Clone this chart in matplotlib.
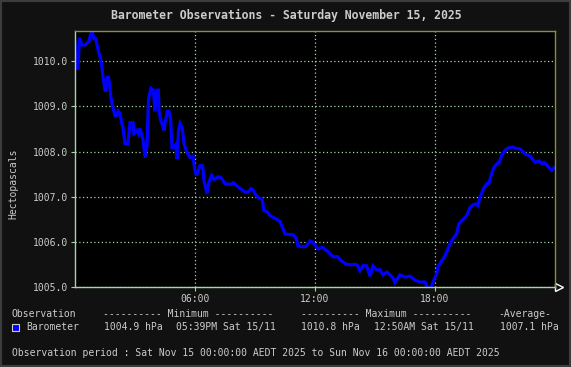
import matplotlib
matplotlib.use("Agg")
import matplotlib.pyplot as plt
from matplotlib.patches import Rectangle

# barometer readings, hours since midnight -> hPa
hours = [0.00, 0.05, 0.15, 0.22, 0.35, 0.50, 0.60, 0.70, 0.75, 0.85, 0.95, 1.05,
         1.10, 1.20, 1.28, 1.35, 1.40, 1.50, 1.55, 1.62, 1.68, 1.75, 1.80, 1.88,
         2.00, 2.10, 2.15, 2.25, 2.33, 2.40, 2.50, 2.65, 2.75, 2.90, 2.95, 3.10,
         3.17, 3.25, 3.40, 3.50, 3.60, 3.68, 3.80, 3.92, 4.00, 4.10, 4.17, 4.20,
         4.28, 4.38, 4.45, 4.50, 4.62, 4.70, 4.78, 4.85, 4.92, 5.05, 5.10, 5.18,
         5.25, 5.37, 5.45, 5.58, 5.75, 5.90, 5.98, 6.08, 6.25, 6.38, 6.45, 6.60,
         6.70, 6.83, 6.95, 7.15, 7.30, 7.50, 7.75, 7.92, 8.15, 8.50, 8.65, 8.80,
         8.90, 9.00, 9.20, 9.35, 9.45, 9.60, 9.75, 10.05, 10.25, 10.50, 10.70, 10.90,
         11.05, 11.15, 11.40, 11.55, 11.75, 11.85, 12.00, 12.15, 12.38, 12.60, 12.90, 13.15,
         13.25, 13.55, 13.75, 14.00, 14.10, 14.25, 14.40, 14.58, 14.75, 14.90, 15.08, 15.25,
         15.40, 15.60, 15.75, 15.90, 16.00, 16.15, 16.25, 16.50, 16.75, 17.00, 17.25, 17.50,
         17.65, 17.83, 17.90, 18.08, 18.15, 18.28, 18.50, 18.75, 18.90, 19.08, 19.20, 19.35,
         19.58, 19.75, 19.90, 20.05, 20.15, 20.25, 20.45, 20.60, 20.70, 20.83, 20.95, 21.10,
         21.20, 21.33, 21.45, 21.58, 21.75, 21.90, 22.05, 22.25, 22.40, 22.50, 22.75, 22.90,
         23.00, 23.20, 23.35, 23.45, 23.60, 23.83, 23.95]
pressure = [1010.42, 1009.84, 1009.84, 1010.52, 1010.36, 1010.36, 1010.40, 1010.44, 1010.55, 1010.67, 1010.50, 1010.50,
            1010.36, 1010.18, 1010.07, 1009.87, 1009.64, 1009.36, 1009.36, 1009.64, 1009.64, 1009.40, 1009.18, 1009.00,
            1008.80, 1008.80, 1008.89, 1008.85, 1008.64, 1008.53, 1008.18, 1008.18, 1008.64, 1008.64, 1008.40, 1008.47,
            1008.40, 1008.51, 1008.26, 1007.87, 1008.13, 1009.18, 1009.40, 1009.36, 1008.89, 1009.36, 1009.36, 1008.89,
            1008.70, 1008.58, 1008.47, 1008.64, 1008.89, 1008.89, 1008.73, 1008.09, 1008.09, 1008.16, 1007.84, 1008.47,
            1008.62, 1008.51, 1008.18, 1008.00, 1007.87, 1007.90, 1007.62, 1007.47, 1007.69, 1007.69, 1007.36, 1007.07,
            1007.33, 1007.47, 1007.38, 1007.44, 1007.42, 1007.29, 1007.27, 1007.31, 1007.22, 1007.10, 1007.10, 1007.18,
            1007.15, 1007.07, 1006.96, 1006.96, 1006.69, 1006.67, 1006.58, 1006.51, 1006.45, 1006.18, 1006.16, 1006.16,
            1006.09, 1005.91, 1005.89, 1005.90, 1006.02, 1006.00, 1005.93, 1005.84, 1005.88, 1005.80, 1005.67, 1005.67,
            1005.60, 1005.51, 1005.49, 1005.50, 1005.49, 1005.36, 1005.47, 1005.47, 1005.24, 1005.47, 1005.38, 1005.38,
            1005.27, 1005.33, 1005.27, 1005.20, 1005.10, 1005.20, 1005.27, 1005.22, 1005.24, 1005.15, 1005.11, 1005.11,
            1004.95, 1005.02, 1005.11, 1005.29, 1005.45, 1005.54, 1005.69, 1005.96, 1006.07, 1006.18, 1006.40, 1006.47,
            1006.58, 1006.76, 1006.82, 1006.84, 1006.80, 1006.99, 1007.20, 1007.29, 1007.30, 1007.51, 1007.65, 1007.73,
            1007.75, 1007.91, 1008.00, 1008.06, 1008.09, 1008.10, 1008.07, 1008.06, 1008.00, 1007.95, 1007.90, 1007.82,
            1007.76, 1007.79, 1007.73, 1007.76, 1007.70, 1007.58, 1007.64]

y_ticks = [1005.0, 1006.0, 1007.0, 1008.0, 1009.0, 1010.0]
x_ticks = [6, 12, 18]
x_labels = ["06:00", "12:00", "18:00"]

W, H = 571, 367
TXT = "#cccccc"
GRID = "#a6d6a6"
OLIVE = "#8c8c3c"
MONO = "DejaVu Sans Mono"

fig = plt.figure(figsize=(W / 100, H / 100), dpi=100, facecolor="#111111")
# grey frame around the whole image
fig.patches.append(Rectangle((0, 0), 1, 1, transform=fig.transFigure,
                             fill=False, edgecolor="#3c3c3c", lw=3))

def px(x, y):
    """ pixel position in the reference -> figure fraction """
    return x / W, 1 - y / H

l, t = px(75, 31)
r, b = px(555, 287)
ax = fig.add_axes([l, b, r - l, t - b], facecolor="black")

ax.plot(hours, pressure, color="#0000ff", lw=2.3, solid_joinstyle="miter")

ax.set_xlim(0, 24)
ax.set_ylim(1005.0, 1010.67)
ax.set_yticks(y_ticks)
ax.set_yticklabels(["%.1f" % v for v in y_ticks])
ax.set_xticks(x_ticks)
ax.set_xticklabels(x_labels)

ax.grid(True, color=GRID, linestyle=(0, (1, 2)), lw=0.9)
ax.tick_params(colors=GRID, labelcolor=TXT, length=3, width=0.8,
               labelsize=7, pad=2)
for lab in ax.get_xticklabels() + ax.get_yticklabels():
    lab.set_family(MONO)
ax.spines["left"].set_color(GRID)
ax.spines["bottom"].set_color(GRID)
ax.spines["top"].set_color(OLIVE)
ax.spines["right"].set_color(OLIVE)
for s in ax.spines.values():
    s.set_linewidth(1.0)

# hollow arrow head at the end of the time axis
ax.plot([1.008], [0], marker=">", ms=6, mfc="none", mec="white", mew=1,
        transform=ax.transAxes, clip_on=False)

ax.set_ylabel("Hectopascals", color=TXT, fontsize=7, family=MONO)
ax.yaxis.set_label_coords(13 / W, 0.5, transform=fig.transFigure)
ax.yaxis.label.set_va("center")

fig.text(*px(286, 15), "Barometer Observations - Saturday November 15, 2025",
         color=TXT, fontsize=8.3, family=MONO, ha="center", va="center",
         weight="bold")

# summary rows under the plot
row1, row2, row3 = 314, 327, 353
fs = 7.0
def put(x, y, s):
    fig.text(*px(x, y), s, color=TXT, fontsize=fs, family=MONO,
             ha="left", va="center")

put(12, row1, "Observation")
put(103, row1, "---------- Minimum ----------")
put(301, row1, "---------- Maximum ----------")
put(498, row1, "-Average-")

x0, y0 = px(12, 331)
x1, y1 = px(19, 324)
fig.patches.append(Rectangle((x0, y0), x1 - x0, y1 - y0, transform=fig.transFigure,
                             facecolor="#0000ff", edgecolor=TXT, lw=0.8))
put(26, row2, "Barometer")
put(104, row2, "1004.9 hPa")
put(176, row2, "05:39PM Sat 15/11")
put(301, row2, "1010.8 hPa")
put(374, row2, "12:50AM Sat 15/11")
put(500, row2, "1007.1 hPa")

put(12, row3, "Observation period : Sat Nov 15 00:00:00 AEDT 2025 to "
              "Sun Nov 16 00:00:00 AEDT 2025")

fig.savefig("out.png", dpi=100, facecolor=fig.get_facecolor())
